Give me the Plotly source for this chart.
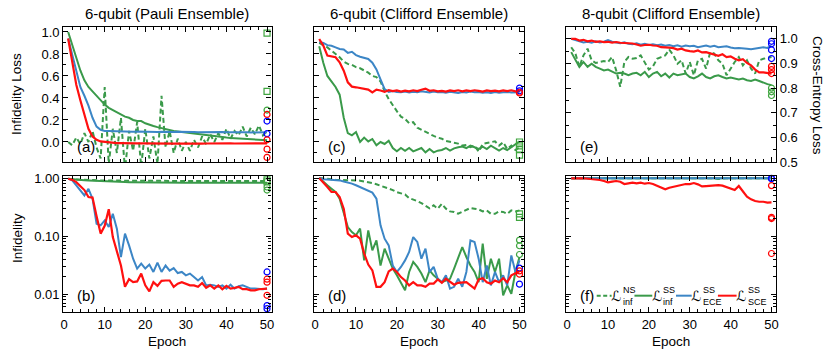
import plotly.graph_objects as go
from plotly.subplots import make_subplots

epochs = list(range(1, 51))

# ---- (a) 6-qubit Pauli ensemble, infidelity loss ----
a_ns_inf = [0.0, -0.03, 0.04, -0.02, 0.08, 0.0, 0.10, -0.05, -0.15, 0.50,
            -0.20, 0.12, -0.10, 0.22, -0.25, 0.10, -0.08, 0.18, -0.22, 0.12,
            -0.15, 0.05, -0.20, 0.42, -0.05, 0.10, -0.10, 0.03, -0.08, 0.0,
            -0.08, 0.02, -0.05, 0.05, -0.02, 0.07, 0.0, 0.08, 0.02, 0.12,
            0.03, 0.10, 0.06, 0.14, 0.05, 0.13, 0.07, 0.15, 0.06, 0.10]
a_ss_inf = [1.00, 0.88, 0.76, 0.65, 0.56, 0.50, 0.46, 0.42, 0.38, 0.34,
            0.31, 0.29, 0.27, 0.25, 0.23, 0.22, 0.20, 0.19, 0.19, 0.17,
            0.155, 0.145, 0.135, 0.125, 0.115, 0.105, 0.10, 0.095, 0.09, 0.085,
            0.08, 0.075, 0.07, 0.065, 0.06, 0.055, 0.05, 0.047, 0.043, 0.04,
            0.037, 0.034, 0.031, 0.028, 0.025, 0.022, 0.02, 0.018, 0.016, 0.015]
a_ece = [0.94, 0.80, 0.65, 0.50, 0.42, 0.33, 0.22, 0.14, 0.11, 0.10,
         0.10, 0.098, 0.10, 0.097, 0.095, 0.096, 0.094, 0.095, 0.093, 0.094,
         0.092, 0.093, 0.091, 0.092, 0.09, 0.091, 0.09, 0.092, 0.09, 0.089,
         0.091, 0.09, 0.089, 0.09, 0.088, 0.09, 0.089, 0.088, 0.09, 0.088,
         0.089, 0.088, 0.087, 0.089, 0.088, 0.087, 0.088, 0.087, 0.088, 0.088]
a_sce = [0.94, 0.72, 0.52, 0.38, 0.24, 0.12, 0.05, 0.02, 0.005, 0.0,
         -0.005, -0.008, -0.01, -0.01, -0.012, -0.012, -0.013, -0.012, -0.013, -0.014,
         -0.013, -0.014, -0.013, -0.014, -0.015, -0.014, -0.015, -0.014, -0.015, -0.014,
         -0.015, -0.014, -0.014, -0.015, -0.014, -0.013, -0.014, -0.013, -0.014, -0.013,
         -0.013, -0.014, -0.013, -0.012, -0.013, -0.012, -0.013, -0.012, -0.012, -0.012]
a_end_ns = [0.99, 0.46]
a_end_ss = [0.29]
a_end_ece = [0.19, 0.075]
a_end_sce = [0.25, 0.02, -0.065, -0.14]

# ---- (c) 6-qubit Clifford ensemble, loss ----
c_ns_inf = [0.90, 0.88, 0.86, 0.83, 0.80, 0.77, 0.73, 0.71, 0.70, 0.68,
            0.67, 0.65, 0.63, 0.60, 0.59, 0.55, 0.46, 0.39, 0.33, 0.28,
            0.23, 0.21, 0.17, 0.18, 0.13, 0.11, 0.09, 0.07, 0.055, 0.04,
            0.03, 0.01, 0.0, -0.01, -0.015, -0.033, -0.027, -0.048, -0.033, -0.088,
            -0.018, -0.01, -0.003, 0.006, -0.033, -0.003, -0.064, -0.033, -0.073, -0.048]
c_ss_inf = [0.87, 0.72, 0.60, 0.55, 0.50, 0.43, 0.22, 0.08, 0.06, 0.09,
            0.0, 0.04, 0.005, 0.027, -0.03, 0.0, -0.018, 0.012, -0.055, -0.085,
            -0.055, -0.08, -0.055, -0.085, -0.073, -0.055, -0.094, -0.064, -0.094, -0.079,
            -0.073, -0.055, -0.079, -0.058, -0.048, -0.042, -0.055, -0.033, -0.048, -0.064,
            -0.042, -0.064, -0.033, -0.055, -0.079, -0.055, -0.073, -0.048, -0.018, 0.006]
c_ece = [0.91, 0.90, 0.88, 0.875, 0.86, 0.845, 0.84, 0.81, 0.82, 0.79,
         0.775, 0.765, 0.755, 0.72, 0.66, 0.57, 0.48, 0.455, 0.462, 0.455,
         0.452, 0.458, 0.45, 0.456, 0.452, 0.46, 0.455, 0.45, 0.458, 0.452,
         0.455, 0.448, 0.456, 0.452, 0.445, 0.455, 0.45, 0.458, 0.452, 0.455,
         0.448, 0.452, 0.445, 0.455, 0.448, 0.452, 0.455, 0.45, 0.448, 0.452]
c_sce = [0.936, 0.876, 0.785, 0.776, 0.77, 0.724, 0.648, 0.542, 0.503, 0.497,
         0.49, 0.482, 0.476, 0.45, 0.476, 0.468, 0.455, 0.47, 0.462, 0.468,
         0.458, 0.466, 0.46, 0.47, 0.462, 0.475, 0.485, 0.465, 0.47, 0.46,
         0.465, 0.458, 0.468, 0.462, 0.47, 0.46, 0.468, 0.462, 0.47, 0.465,
         0.458, 0.468, 0.462, 0.466, 0.46, 0.468, 0.462, 0.47, 0.46, 0.462]
c_end_ns = [0.0, -0.035, -0.07, -0.12]
c_end_ss = []
c_end_ece = [0.49, 0.465]
c_end_sce = [0.452, 0.445]

# ---- (e) 8-qubit Clifford ensemble, cross-entropy loss ----
e_ns_inf = [0.966, 0.942, 0.886, 0.933, 0.96, 0.913, 0.902, 0.906, 0.91, 0.906,
            0.926, 0.872, 0.805, 0.906, 0.926, 0.919, 0.922, 0.933, 0.906, 0.875,
            0.888, 0.919, 0.926, 0.933, 0.956, 0.933, 0.899, 0.913, 0.859, 0.906,
            0.852, 0.913, 0.919, 0.879, 0.946, 0.94, 0.913, 0.899, 0.852, 0.879,
            0.906, 0.926, 0.892, 0.913, 0.879, 0.859, 0.913, 0.919, 0.923, 0.926]
e_ss_inf = [0.946, 0.913, 0.886, 0.906, 0.886, 0.899, 0.886, 0.879, 0.872, 0.875,
            0.866, 0.859, 0.862, 0.859, 0.852, 0.859, 0.862, 0.852, 0.866, 0.845,
            0.859, 0.866, 0.848, 0.859, 0.843, 0.859, 0.852, 0.856, 0.859, 0.845,
            0.839, 0.848, 0.859, 0.845, 0.839, 0.848, 0.852, 0.845, 0.839, 0.843,
            0.839, 0.835, 0.839, 0.832, 0.829, 0.835, 0.829, 0.821, 0.816, 0.812]
e_ece = [1.0, 0.995, 0.99, 0.985, 0.988, 0.984, 0.99, 0.985, 0.988, 0.995,
         0.988, 0.985, 0.982, 0.986, 0.98, 0.978, 0.982, 0.976, 0.98, 0.975,
         0.978, 0.974, 0.977, 0.972, 0.975, 0.97, 0.974, 0.968, 0.973, 0.97,
         0.972, 0.966, 0.97, 0.973, 0.968, 0.972, 0.966, 0.968, 0.97, 0.965,
         0.962, 0.963, 0.96, 0.96, 0.958, 0.96, 0.962, 0.966, 0.963, 0.972]
e_sce = [1.0, 1.0, 0.993, 0.996, 0.99, 0.993, 0.988, 0.99, 0.987, 0.988,
         0.985, 0.987, 0.984, 0.984, 0.983, 0.981, 0.977, 0.972, 0.975, 0.976,
         0.973, 0.972, 0.966, 0.966, 0.964, 0.962, 0.956, 0.96, 0.953, 0.95,
         0.948, 0.953, 0.945, 0.946, 0.94, 0.937, 0.931, 0.937, 0.926, 0.929,
         0.919, 0.913, 0.917, 0.902, 0.892, 0.875, 0.864, 0.864, 0.862, 0.859]
e_end_ns = []
e_end_ss = [0.80, 0.785, 0.77]
e_end_ece = [0.99, 0.98, 0.955, 0.92]
e_end_sce = [0.888, 0.875, 0.859]

# ---- (b) 6-qubit Pauli ensemble, infidelity ----
b_ns_inf = [0.97, 0.95, 0.94, 0.93, 0.93, 0.92, 0.92, 0.915, 0.91, 0.91,
            0.905, 0.905, 0.90, 0.90, 0.90, 0.898, 0.897, 0.896, 0.895, 0.895,
            0.894, 0.894, 0.893, 0.893, 0.892, 0.892, 0.892, 0.891, 0.891, 0.891,
            0.89, 0.89, 0.89, 0.89, 0.889, 0.889, 0.889, 0.889, 0.888, 0.888,
            0.888, 0.888, 0.887, 0.887, 0.887, 0.887, 0.886, 0.886, 0.886, 0.886]
b_ss_inf = [0.97, 0.95, 0.94, 0.93, 0.92, 0.91, 0.90, 0.89, 0.88, 0.875,
            0.87, 0.865, 0.86, 0.855, 0.85, 0.848, 0.845, 0.842, 0.84, 0.838,
            0.836, 0.835, 0.834, 0.833, 0.832, 0.832, 0.831, 0.831, 0.83, 0.83,
            0.83, 0.83, 0.829, 0.829, 0.829, 0.829, 0.828, 0.828, 0.828, 0.828,
            0.828, 0.827, 0.827, 0.827, 0.827, 0.827, 0.826, 0.826, 0.826, 0.826]
b_ece = [0.974, 0.91, 0.75, 0.61, 0.50, 0.65, 0.44, 0.163, 0.153, 0.186,
         0.143, 0.242, 0.134, 0.0435, 0.11, 0.069, 0.0407, 0.0275, 0.0334, 0.0275,
         0.0322, 0.024, 0.0347, 0.024, 0.031, 0.0253, 0.028, 0.023, 0.024, 0.021,
         0.0225, 0.0196, 0.0171, 0.0196, 0.0141, 0.0145, 0.0141, 0.0133, 0.0141, 0.0124,
         0.0145, 0.0124, 0.0136, 0.0141, 0.0133, 0.0124, 0.0124, 0.0121, 0.0121, 0.0124]
b_sce = [0.97, 0.93, 0.85, 0.72, 0.62, 0.47, 0.46, 0.22, 0.11, 0.15,
         0.29, 0.096, 0.053, 0.031, 0.0133, 0.018, 0.016, 0.0165, 0.0225, 0.0141,
         0.0111, 0.016, 0.0138, 0.0169, 0.0171, 0.0171, 0.0133, 0.0151, 0.016, 0.0151,
         0.0141, 0.0141, 0.0133, 0.0155, 0.0128, 0.0141, 0.0124, 0.0141, 0.0121, 0.0138,
         0.0124, 0.0128, 0.0133, 0.0121, 0.0121, 0.0116, 0.0116, 0.0121, 0.0124, 0.0124]
b_end_ns = [0.93, 0.86]
b_end_ss = [0.70, 0.62]
b_end_ece = [0.024, 0.0063, 0.0056]
b_end_sce = [0.018, 0.016, 0.0095]

# ---- (d) 6-qubit Clifford ensemble, infidelity ----
d_ns_inf = [1.0, 0.974, 0.95, 0.95, 0.93, 0.93, 0.925, 0.92, 0.91, 0.91,
            0.90, 0.88, 0.86, 0.82, 0.78, 0.74, 0.70, 0.66, 0.62, 0.57,
            0.55, 0.52, 0.45, 0.43, 0.40, 0.37, 0.33, 0.30, 0.338, 0.296,
            0.36, 0.296, 0.266, 0.26, 0.242, 0.26, 0.277, 0.305, 0.296, 0.288,
            0.266, 0.277, 0.242, 0.242, 0.266, 0.26, 0.242, 0.277, 0.266, 0.277]
d_ss_inf = [1.0, 0.853, 0.75, 0.655, 0.574, 0.44, 0.26, 0.143, 0.117, 0.103,
            0.134, 0.038, 0.125, 0.0566, 0.084, 0.031, 0.0606, 0.0407, 0.0275, 0.021,
            0.016, 0.0116, 0.024, 0.0357, 0.0293, 0.0225, 0.016, 0.0256, 0.021, 0.0183,
            0.016, 0.0171, 0.0183, 0.0275, 0.0435, 0.0646, 0.0435, 0.031, 0.024, 0.016,
            0.074, 0.0183, 0.0407, 0.024, 0.0407, 0.0095, 0.0141, 0.0101, 0.024, 0.0435]
d_ece = [1.0, 0.95, 0.94, 0.93, 0.94, 0.91, 0.87, 0.84, 0.80, 0.75,
         0.70, 0.655, 0.60, 0.56, 0.44, 0.153, 0.09, 0.069, 0.031, 0.024,
         0.0293, 0.038, 0.053, 0.096, 0.079, 0.0407, 0.0606, 0.024, 0.0293, 0.0183,
         0.016, 0.021, 0.0124, 0.0133, 0.0183, 0.0133, 0.024, 0.084, 0.079, 0.0407,
         0.016, 0.031, 0.0141, 0.024, 0.016, 0.021, 0.0141, 0.0464, 0.024, 0.038]
d_sce = [1.0, 0.853, 0.70, 0.574, 0.574, 0.47, 0.296, 0.11, 0.096, 0.103,
         0.09, 0.0498, 0.0322, 0.0256, 0.0133, 0.0133, 0.016, 0.0246, 0.0275, 0.024,
         0.0196, 0.0171, 0.0141, 0.016, 0.0141, 0.0141, 0.0133, 0.0151, 0.0151, 0.0178,
         0.0156, 0.0183, 0.016, 0.0145, 0.0156, 0.016, 0.016, 0.0141, 0.0124, 0.0178,
         0.0187, 0.016, 0.0151, 0.0171, 0.016, 0.0187, 0.016, 0.021, 0.0225, 0.0246]
d_end_ns = [0.24, 0.21]
d_end_ss = [0.085, 0.068, 0.048]
d_end_ece = [0.028, 0.0148]
d_end_sce = [0.025, 0.022]

# ---- (f) 8-qubit Clifford ensemble, infidelity ----
f_ns_inf = [0.995, 0.995, 0.995, 0.994, 0.995, 0.995, 0.994, 0.995, 0.995, 0.994,
            0.995, 0.995, 0.994, 0.995, 0.995, 0.994, 0.995, 0.995, 0.994, 0.995,
            0.995, 0.994, 0.995, 0.995, 0.994, 0.995, 0.995, 0.994, 0.995, 0.995,
            0.994, 0.995, 0.995, 0.994, 0.995, 0.99, 0.965, 0.99, 0.995, 0.994,
            0.995, 0.995, 0.994, 0.995, 0.995, 0.994, 0.995, 0.995, 0.994, 0.995]
f_ss_inf = [0.996, 0.996, 0.996, 0.995, 0.996, 0.996, 0.995, 0.996, 0.996, 0.995,
            0.996, 0.996, 0.995, 0.996, 0.996, 0.995, 0.996, 0.996, 0.995, 0.996,
            0.996, 0.995, 0.996, 0.996, 0.995, 0.996, 0.996, 0.995, 0.996, 0.996,
            0.995, 0.996, 0.996, 0.995, 0.996, 0.996, 0.995, 0.996, 0.996, 0.995,
            0.996, 0.996, 0.995, 0.996, 0.996, 0.995, 0.996, 0.996, 0.995, 0.996]
f_ece = [0.994, 0.994, 0.993, 0.994, 0.994, 0.993, 0.994, 0.994, 0.993, 0.994,
         0.994, 0.993, 0.994, 0.994, 0.993, 0.994, 0.994, 0.993, 0.994, 0.994,
         0.993, 0.994, 0.994, 0.993, 0.994, 0.994, 0.993, 0.994, 0.994, 0.993,
         0.994, 0.994, 0.993, 0.994, 0.994, 0.993, 0.994, 0.994, 0.993, 0.994,
         0.994, 0.993, 0.994, 0.994, 0.993, 0.994, 0.994, 0.993, 0.994, 0.994]
f_sce = [0.987, 1.0, 0.99, 0.99, 0.974, 0.974, 0.96, 0.924, 0.888, 0.842,
         0.865, 0.888, 0.865, 0.788, 0.809, 0.831, 0.809, 0.831, 0.798, 0.82,
         0.788, 0.738, 0.70, 0.638, 0.681, 0.709, 0.738, 0.777, 0.788, 0.788,
         0.82, 0.777, 0.718, 0.728, 0.738, 0.738, 0.757, 0.738, 0.70, 0.664,
         0.621, 0.728, 0.581, 0.476, 0.429, 0.401, 0.39, 0.39, 0.376, 0.38]
f_end_ns = []
f_end_ss = []
f_end_ece = [0.99, 0.975]
f_end_sce = [0.74, 0.21, 0.20, 0.05]

titles = ["6-qubit (Pauli Ensemble)", "6-qubit (Clifford Ensemble)", "8-qubit (Clifford Ensemble)"]
panel_tags = ["(a)", "(c)", "(e)", "(b)", "(d)", "(f)"]
legend_names = [("NS", "inf"), ("SS", "inf"), ("SS", "ECE"), ("SS", "SCE")]

GREEN = "#3a9a4a"
BLUE = "#3c86c6"
RED = "#ff1010"
FONT = "Liberation Sans, Arial, sans-serif"

fig = make_subplots(rows=2, cols=3)

panels = [
    (1, 1, a_ns_inf, a_ss_inf, a_ece, a_sce, a_end_ns, a_end_ss, a_end_ece, a_end_sce),
    (1, 2, c_ns_inf, c_ss_inf, c_ece, c_sce, c_end_ns, c_end_ss, c_end_ece, c_end_sce),
    (1, 3, e_ns_inf, e_ss_inf, e_ece, e_sce, e_end_ns, e_end_ss, e_end_ece, e_end_sce),
    (2, 1, b_ns_inf, b_ss_inf, b_ece, b_sce, b_end_ns, b_end_ss, b_end_ece, b_end_sce),
    (2, 2, d_ns_inf, d_ss_inf, d_ece, d_sce, d_end_ns, d_end_ss, d_end_ece, d_end_sce),
    (2, 3, f_ns_inf, f_ss_inf, f_ece, f_sce, f_end_ns, f_end_ss, f_end_ece, f_end_sce),
]

for r, c, ns, ss, ece, sce, end_ns, end_ss, end_ece, end_sce in panels:
    fig.add_trace(go.Scatter(x=epochs, y=ns, mode="lines",
                             line=dict(color=GREEN, width=2, dash="5px,3px")), row=r, col=c)
    fig.add_trace(go.Scatter(x=epochs, y=ss, mode="lines",
                             line=dict(color=GREEN, width=2)), row=r, col=c)
    fig.add_trace(go.Scatter(x=epochs, y=ece, mode="lines",
                             line=dict(color=BLUE, width=2)), row=r, col=c)
    fig.add_trace(go.Scatter(x=epochs, y=sce, mode="lines",
                             line=dict(color=RED, width=2.2)), row=r, col=c)
    # final values of the individual runs
    for vals, col, sym in [(end_ns, "#3fa53f", "square-open"), (end_ss, "#3fa53f", "circle-open"),
                           (end_ece, "#0000ff", "circle-open"), (end_sce, "#ff0000", "circle-open")]:
        if vals:
            fig.add_trace(go.Scatter(x=[50] * len(vals), y=vals, mode="markers",
                                     marker=dict(symbol=sym, size=6, color=col,
                                                 line=dict(width=1.2, color=col))),
                          row=r, col=c)

fig.update_traces(showlegend=False, cliponaxis=False)

axis_common = dict(showline=True, linecolor="black", linewidth=1.2, mirror="allticks",
                   ticks="inside", ticklen=5, tickwidth=1, tickcolor="black",
                   showgrid=False, zeroline=False, automargin=False,
                   tickfont=dict(family=FONT, size=13, color="black"))

x_dom = [[63.3 / 830, 271.5 / 830], [314.3 / 830, 524 / 830], [566.3 / 830, 776 / 830]]
y_dom_top = [(356 - 162) / 356, (356 - 27) / 356]
y_dom_bot = [(356 - 312) / 356, (356 - 176) / 356]

log_minor = [m * 10 ** k for k in (-3, -2, -1) for m in range(2, 10)]

for i in range(6):
    n = i + 1
    col = i % 3
    top = i < 3
    xa = dict(axis_common, domain=x_dom[col], range=[-0.2, 51.1], tick0=0, dtick=10,
              minor=dict(ticks="inside", ticklen=3, tickcolor="black", dtick=2, tick0=0),
              showticklabels=not top)
    if top:
        if col < 2:
            ya = dict(axis_common, domain=y_dom_top, range=[-0.182, 1.045], tick0=0, dtick=0.2,
                      tickformat=".1f",
                      minor=dict(ticks="inside", ticklen=3, tickcolor="black", dtick=0.1, tick0=0),
                      showticklabels=(col == 0))
        else:
            ya = dict(axis_common, domain=y_dom_top, range=[0.5, 1.048], tick0=0.5, dtick=0.1,
                      tickformat=".1f", side="right",
                      minor=dict(ticks="inside", ticklen=3, tickcolor="black", dtick=0.05, tick0=0.5))
    else:
        ya = dict(axis_common, domain=y_dom_bot, type="log", range=[-2.31, 0.035],
                  tickmode="array", tickvals=[0.01, 0.1, 1], ticktext=["0.01", "0.10", "1.00"],
                  minor=dict(ticks="inside", ticklen=3, tickcolor="black",
                             tickmode="array", tickvals=log_minor),
                  showticklabels=(col == 0))
    fig.layout["xaxis" + ("" if n == 1 else str(n))].update(xa)
    fig.layout["yaxis" + ("" if n == 1 else str(n))].update(ya)

ann = []
for k, t in enumerate(titles):
    ann.append(dict(text=t, xref="x%s domain" % ("" if k == 0 else k + 1), x=0.5,
                    xanchor="center", yref="paper", y=(356 - 13) / 356, yanchor="middle",
                    showarrow=False, font=dict(family=FONT, size=15, color="black")))
for k in range(6):
    ref = "" if k == 0 else str(k + 1)
    ann.append(dict(text=panel_tags[k], xref="x%s domain" % ref, yref="y%s domain" % ref,
                    x=0.055, y=0.115 if k < 3 else 0.125, xanchor="left", yanchor="middle",
                    showarrow=False, font=dict(family=FONT, size=15, color="black")))
for k in (4, 5, 6):
    ann.append(dict(text="Epoch", xref="x%d domain" % k, x=0.5, xanchor="center",
                    yref="paper", y=(356 - 341) / 356, yanchor="middle", showarrow=False,
                    font=dict(family=FONT, size=13.5, color="black")))
ann.append(dict(text="Infidelity Loss", xref="paper", x=17 / 830, xanchor="center",
                yref="paper", y=(356 - 94) / 356, yanchor="middle", textangle=-90,
                showarrow=False, font=dict(family=FONT, size=13.5, color="black")))
ann.append(dict(text="Infidelity", xref="paper", x=17 / 830, xanchor="center",
                yref="paper", y=(356 - 238) / 356, yanchor="middle", textangle=-90,
                showarrow=False, font=dict(family=FONT, size=13.5, color="black")))
ann.append(dict(text="Cross-Entropy Loss", xref="paper", x=818 / 830, xanchor="center",
                yref="paper", y=(356 - 95) / 356, yanchor="middle", textangle=90,
                showarrow=False, font=dict(family=FONT, size=13.5, color="black")))

# legend drawn inside panel (f)
leg_line_x = [(0.145, 0.216), (0.325, 0.41), (0.523, 0.598), (0.723, 0.812)]
leg_colors = [GREEN, GREEN, BLUE, RED]
leg_dash = ["4px,2.5px", "solid", "solid", "solid"]
leg_y = 0.12
shapes = []
for (x0, x1), colr, dsh, (sup, sub) in zip(leg_line_x, leg_colors, leg_dash, legend_names):
    shapes.append(dict(type="line", xref="x6 domain", yref="y6 domain", x0=x0, x1=x1,
                       y0=leg_y, y1=leg_y, line=dict(color=colr, width=2, dash=dsh)))
    ann.append(dict(text="ℒ", xref="x6 domain", yref="y6 domain", x=x1 + 0.021, y=leg_y,
                    xanchor="center", yanchor="middle", showarrow=False,
                    font=dict(family="DejaVu Sans, sans-serif", size=14, color="black")))
    ann.append(dict(text=sup + "<br>" + sub, xref="x6 domain", yref="y6 domain",
                    x=x1 + 0.043, y=leg_y, xanchor="left", yanchor="middle", align="left",
                    showarrow=False, font=dict(family=FONT, size=9, color="black")))

fig.update_layout(template="none", width=830, height=356, margin=dict(l=0, r=0, t=0, b=0),
                  paper_bgcolor="white", plot_bgcolor="white",
                  annotations=ann, shapes=shapes, showlegend=False)

fig.write_html("out.html", config={"displayModeBar": False},
               post_script="document.body.style.margin='0';")
